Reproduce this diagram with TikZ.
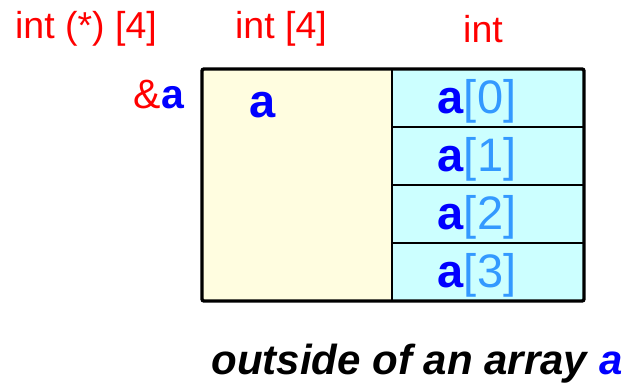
\documentclass[tikz,border=0pt]{standalone}
\usepackage{fontspec}
\setmainfont{Liberation Sans}
\definecolor{lblred}{HTML}{FF0000}
\definecolor{abl}{HTML}{0000FF}
\definecolor{idxbl}{HTML}{3399FF}
\definecolor{yelfill}{HTML}{FFFDE0}
\definecolor{cyfill}{HTML}{CCFFFF}
\begin{document}
\begin{tikzpicture}[x=1pt,y=-1pt,
  txt/.style={inner sep=0pt,anchor=base},
  typelbl/.style={txt,text=lblred,font=\fontsize{37.5}{41}\selectfont},
  idx/.style={txt,font=\fontsize{47}{50}\selectfont},
  thin/.style={line width=1.6pt},
  outer/.style={line width=3.4pt,rounded corners=2pt}]
\useasboundingbox (0,0) rectangle (628,384);
% cells
\fill[yelfill] (202,69) rectangle (392,301);
\fill[cyfill] (392,69) rectangle (584,301);
\coordinate (d1) at (392,69);
\coordinate (d2) at (392,301);
\draw[thin] (d1) -- (d2);
\foreach \yy in {127,185,243}{
  \draw[thin] (392,\yy) -- (584,\yy);
}
\draw[outer] (202,69) rectangle (584,301);
% labels
\node[typelbl] (t1) at (86,38) {int (*) [4]};
\node[typelbl] (t2) at (281,38) {int [4]};
\node[typelbl] (t3) at (483,42) {int};
\node[txt,anchor=base east,font=\fontsize{41}{45}\selectfont] (amp) at (184,108) {\textcolor{lblred}{\&}\textcolor{abl}{\bfseries a}};
\node[idx,text=abl] (aa) at (263,117) {\bfseries a};
\foreach \i in {0,1,2,3}{
  \node[idx] (e\i) at (477,113+58*\i) {\textcolor{abl}{\bfseries a}\textcolor{idxbl}{[\i]}};
}
\node[txt,font=\fontsize{42}{46}\selectfont\bfseries\itshape] (cap) at (417,374) {outside of an array \textcolor{abl}{a}};
\end{tikzpicture}
\end{document}
